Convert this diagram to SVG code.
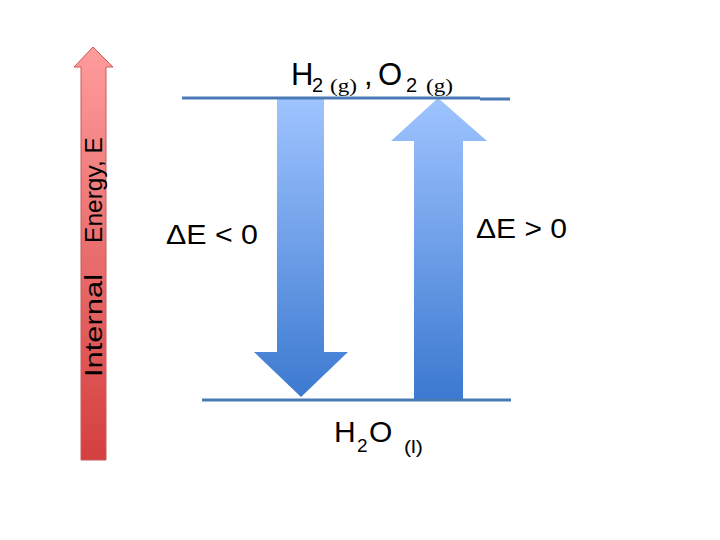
<svg xmlns="http://www.w3.org/2000/svg" width="720" height="540" viewBox="0 0 720 540">
<style>
.t{font-family:"Liberation Sans","Open Sans",sans-serif;fill:#000}
.s{font-family:"Liberation Serif",serif}
.lvl{stroke:#4a7ab5;stroke-width:3;fill:none}
</style>
<defs>
<linearGradient id="red" x1="0" y1="0" x2="0" y2="1">
<stop offset="0" stop-color="#ff9c9c"/>
<stop offset="1" stop-color="#d43f3f"/>
</linearGradient>
<linearGradient id="blue" gradientUnits="userSpaceOnUse" x1="0" y1="98" x2="0" y2="400">
<stop offset="0" stop-color="#9fc4ff"/>
<stop offset="1" stop-color="#3b79d0"/>
</linearGradient>
</defs>
<rect width="720" height="540" fill="#fff"/>
<g id="energy-axis">
<polygon points="93,47 113,67 106,67 106,460 81,460 81,67 74,67" fill="url(#red)" stroke="#c85a5a" stroke-width="1"/>
<text class="t" font-size="23" textLength="103" lengthAdjust="spacingAndGlyphs" transform="translate(102,377) rotate(-90)">Internal</text>
<text class="t" font-size="23" textLength="106" lengthAdjust="spacingAndGlyphs" transform="translate(102,243) rotate(-90)">Energy, E</text>
</g>
<g id="connectors">
<polygon points="277,98 324,98 324,352 348,352 301,397 254,352 277,352" fill="url(#blue)"/>
<polygon points="438,98 487,141 463,141 463,400 414,400 414,141 391,141" fill="url(#blue)"/>
</g>
<g id="reactants">
<path class="lvl" d="M182,98 H480 M480,99 H510"/>
<text class="t" font-size="31" x="291" y="85">H</text>
<text class="t" font-size="20" x="312" y="92">2</text>
<text class="t s" font-size="18" x="330" y="92" textLength="27" lengthAdjust="spacingAndGlyphs">(g)</text>
<text class="t" font-size="31" x="364" y="85">,</text>
<text class="t" font-size="31" x="378" y="85">O</text>
<text class="t" font-size="20" x="406" y="92">2</text>
<text class="t s" font-size="18" x="426" y="92" textLength="27" lengthAdjust="spacingAndGlyphs">(g)</text>
</g>
<g id="product">
<path class="lvl" d="M202,400 H511"/>
<text class="t" font-size="30" x="334" y="442">H</text>
<text class="t" font-size="19" x="357" y="452">2</text>
<text class="t" font-size="30" x="369" y="442">O</text>
<text class="t" font-size="19" x="404" y="453" textLength="19" lengthAdjust="spacingAndGlyphs">(l)</text>
</g>
<g id="labels">
<text class="t" font-size="27" x="166" y="244" textLength="92" lengthAdjust="spacingAndGlyphs">ΔE &lt; 0</text>
<text class="t" font-size="27" x="476" y="238" textLength="91" lengthAdjust="spacingAndGlyphs">ΔE &gt; 0</text>
</g>
</svg>
